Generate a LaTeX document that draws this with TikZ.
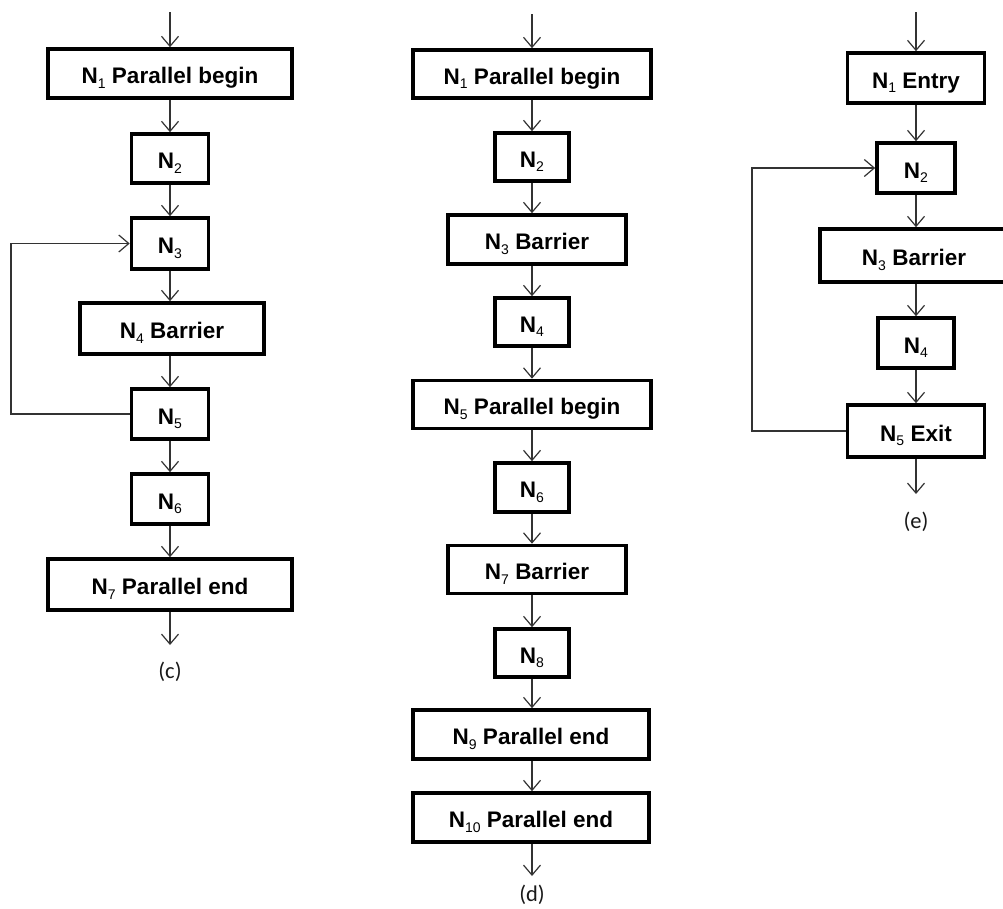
\documentclass[tikz,border=0pt]{standalone}
\usepackage{fontspec}
\setmainfont{Liberation Sans}
\newfontfamily\lblfont{Carlito}
\usetikzlibrary{arrows.meta}
\newcommand\nsub[1]{\raisebox{-4.5pt}[0pt][0pt]{\fontsize{14}{14}\selectfont\mdseries #1}}
\tikzset{
  blk/.style={draw=black, line width=3.6pt, fill=white, inner sep=0pt, minimum height=49pt,
    text height=20pt, text depth=0pt,
    font=\fontsize{22.5}{24}\selectfont\bfseries},
  arr/.style={draw=black!80, line width=1.2pt, -{Straight Barb[length=10pt,width=17pt,line width=1.2pt]}},
  figlabel/.style={font=\lblfont\fontsize{22.5}{24}\selectfont, text=black!90}
}
\begin{document}
\begin{tikzpicture}[x=1pt,y=-1pt]
\useasboundingbox (0,0) rectangle (1003,908);
% ---------------- (c)
\coordinate (c0) at (170,12);
\node[blk, minimum width=244pt] (c1) at (170,73.5) {N\nsub{1} Parallel begin};
\node[blk, minimum width=77pt] (c2) at (170,158.5) {N\nsub{2}};
\node[blk, minimum width=77pt, minimum height=51pt] (c3) at (170,243.5) {N\nsub{3}};
\node[blk, minimum width=184pt, minimum height=51pt] (c4) at (172,328.5) {N\nsub{4} Barrier};
\node[blk, minimum width=77pt, minimum height=50pt] (c5) at (170,414) {N\nsub{5}};
\node[blk, minimum width=77pt, minimum height=50pt] (c6) at (170,499) {N\nsub{6}};
\node[blk, minimum width=244pt, minimum height=51pt] (c7) at (170,584.5) {N\nsub{7} Parallel end};
\coordinate (c8) at (170,645);
\node[figlabel] (clab) at (170,672) {(c)};
\draw[arr] (c0) -- (c1);
\draw[arr] (c1) -- (c2);
\draw[arr] (c2) -- (c3);
\draw[arr] (c3.south) -- (c3.south |- c4.north);
\draw[arr] (c3.south |- c4.south) -- (c5.north);
\draw[arr] (c5) -- (c6);
\draw[arr] (c6) -- (c7);
\draw[arr] (c7) -- (c8);
\coordinate (cl) at (11,0);
\draw[arr] (c5.west) -- (c5.west -| cl) -- (c3.west -| cl) -- (c3.west);
% ---------------- (d)
\coordinate (d0) at (532,14);
\node[blk, minimum width=238pt, minimum height=48pt] (d1) at (532,74) {N\nsub{1} Parallel begin};
\node[blk, minimum width=74pt, minimum height=48pt] (d2) at (532,157) {N\nsub{2}};
\node[blk, minimum width=178pt] (d3) at (537,239.5) {N\nsub{3} Barrier};
\node[blk, minimum width=74pt, minimum height=48pt] (d4) at (532,322) {N\nsub{4}};
\node[blk, minimum width=238pt, minimum height=48pt] (d5) at (532,404.5) {N\nsub{5} Parallel begin};
\node[blk, minimum width=74pt] (d6) at (532,487.5) {N\nsub{6}};
\node[blk, minimum width=178pt, minimum height=48pt] (d7) at (537,569.5) {N\nsub{7} Barrier};
\node[blk, minimum width=74pt, minimum height=48pt] (d8) at (532,653) {N\nsub{8}};
\node[blk, minimum width=236pt] (d9) at (531,734.5) {N\nsub{9} Parallel end};
\node[blk, minimum width=236pt] (d10) at (531,817.5) {N\nsub{10} Parallel end};
\coordinate (d11) at (532,876);
\node[figlabel] (dlab) at (532,895) {(d)};
\draw[arr] (d0) -- (d1.north -| d0);
\draw[arr] (d1.south -| d0) -- (d2.north);
\draw[arr] (d2.south) -- (d2.south |- d3.north);
\draw[arr] (d2.south |- d3.south) -- (d4.north);
\draw[arr] (d4) -- (d5);
\draw[arr] (d5) -- (d6);
\draw[arr] (d6.south) -- (d6.south |- d7.north);
\draw[arr] (d6.south |- d7.south) -- (d8.north);
\draw[arr] (d8.south) -- (d8.south |- d9.north);
\draw[arr] (d8.south |- d9.south) -- (d8.south |- d10.north);
\draw[arr] (d8.south |- d10.south) -- (d11);
% ---------------- (e)
\coordinate (e0) at (916,12);
\node[blk, minimum width=137pt, minimum height=50pt] (e1) at (916,78) {N\nsub{1} Entry};
\node[blk, minimum width=78pt, minimum height=50pt] (e2) at (916,168) {N\nsub{2}};
\node[blk, minimum width=188pt, minimum height=53pt] (e3) at (914,255.5) {N\nsub{3} Barrier};
\node[blk, minimum width=76pt, minimum height=50pt] (e4) at (916,343) {N\nsub{4}};
\node[blk, minimum width=137pt, minimum height=52pt] (e5) at (916,431) {N\nsub{5} Exit};
\coordinate (e6) at (916,494);
\node[figlabel] (elab) at (916,522) {(e)};
\draw[arr] (e0) -- (e1);
\draw[arr] (e1) -- (e2);
\draw[arr] (e2.south) -- (e2.south |- e3.north);
\draw[arr] (e2.south |- e3.south) -- (e4.north);
\draw[arr] (e4) -- (e5);
\draw[arr] (e5) -- (e6);
\coordinate (el) at (752,0);
\draw[arr] (e5.west) -- (e5.west -| el) -- (e2.west -| el) -- (e2.west);
\end{tikzpicture}
\end{document}
